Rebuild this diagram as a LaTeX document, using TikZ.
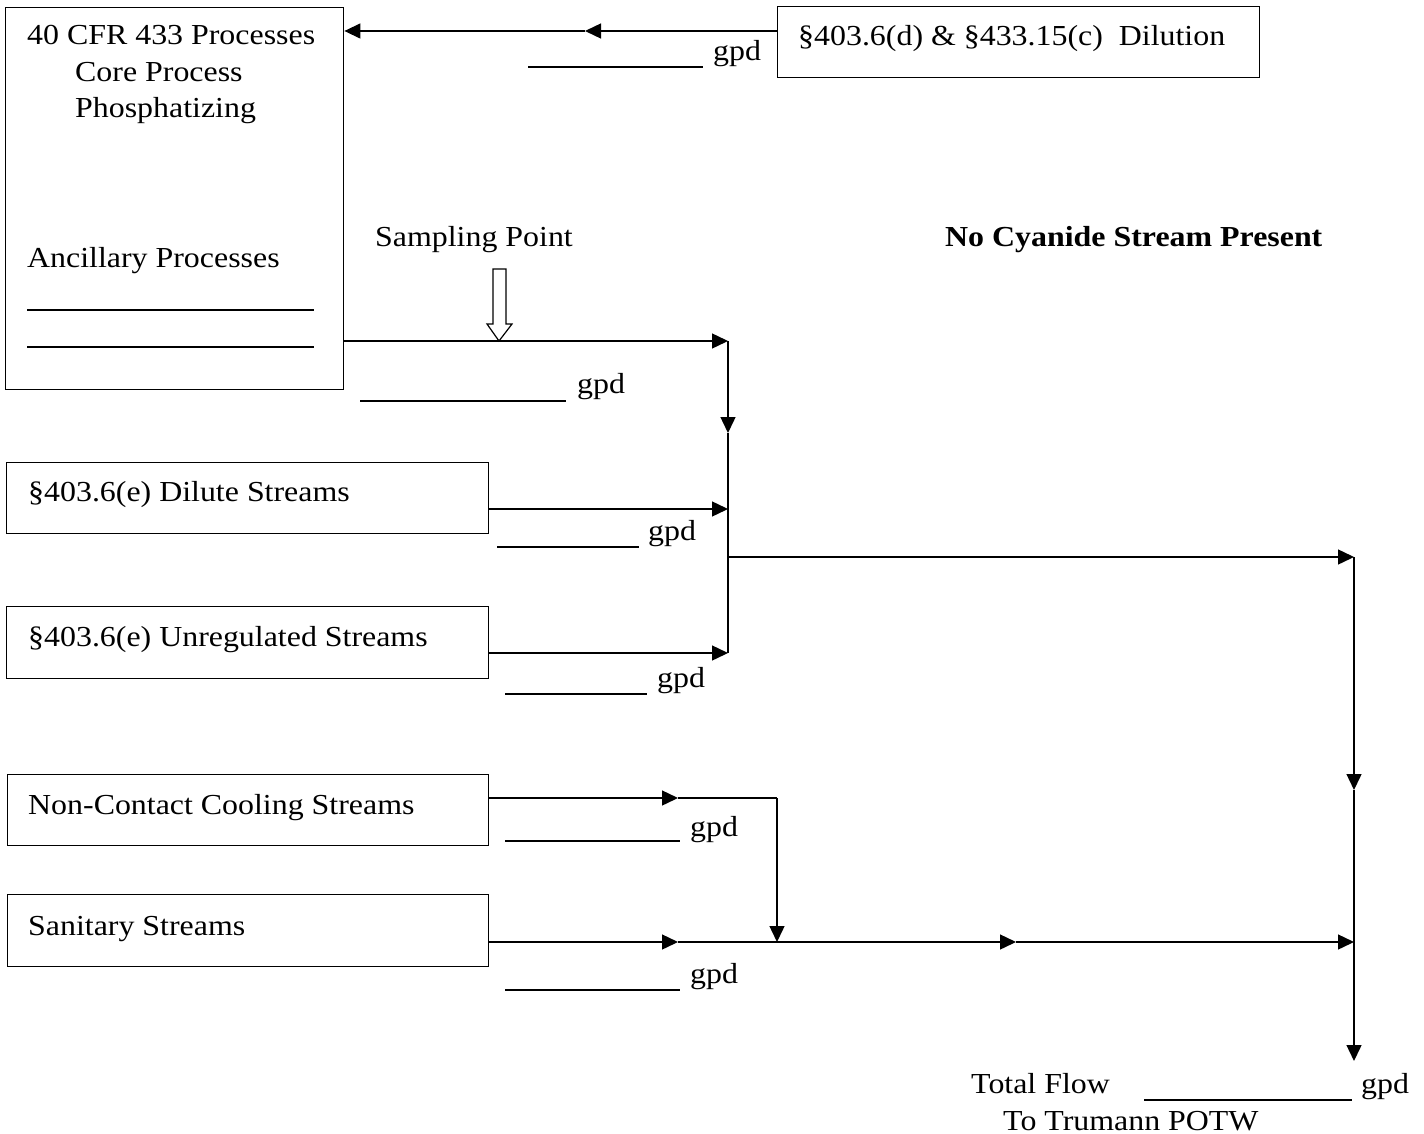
\documentclass[tikz,border=0pt]{standalone}
\usepackage{fontspec}
\setmainfont{Liberation Serif}[FakeStretch=1.1]
\usetikzlibrary{arrows.meta}
\begin{document}
\begin{tikzpicture}[x=1pt,y=-1pt,
  box/.style={draw,line width=1.4pt,inner sep=0,anchor=north west},
  txt/.style={inner sep=0,anchor=base west,font=\fontsize{29}{34}\selectfont},
  btxt/.style={txt,font=\fontsize{29}{34}\selectfont\bfseries},
  flow/.style={line width=1.4pt,-{Triangle[length=16pt,width=15pt]}},
  plain/.style={line width=1.4pt},
  blank/.style={line width=1.2pt}]
\useasboundingbox (0,0) rectangle (1424,1134);
% boxes
\node[box,minimum width=338pt,minimum height=382pt] (core) at (5,7) {};
\node[box,minimum width=482pt,minimum height=71pt] (dil) at (777,6) {};
\node[box,minimum width=482pt,minimum height=71pt] (dilute) at (6,462) {};
\node[box,minimum width=482pt,minimum height=72pt] (unreg) at (6,606) {};
\node[box,minimum width=481pt,minimum height=71pt] (ncc) at (7,774) {};
\node[box,minimum width=481pt,minimum height=72pt] (san) at (7,894) {};
% texts
\node[txt] (t1) at (27,45) {40 CFR 433 Processes};
\node[txt] (t2) at (75,82) {Core Process};
\node[txt] (t3) at (75,118) {Phosphatizing};
\node[txt] (t4) at (27,267) {Ancillary Processes};
\draw[blank] (27,310) -- (314,310);
\draw[blank] (27,347) -- (314,347);
\node[txt] (tdil) at (798,46) {§403.6(d) \& §433.15(c)\ \ Dilution};
\node[txt] (tdilute) at (28,501) {§403.6(e) Dilute Streams};
\node[txt] (tunreg) at (28,646) {§403.6(e) Unregulated Streams};
\node[txt] (tncc) at (28,814) {Non-Contact Cooling Streams};
\node[txt] (tsan) at (28,935) {Sanitary Streams};
\node[txt] (tsp) at (375,246) {Sampling Point};
\node[btxt] (tnc) at (945,246) {No Cyanide Stream Present};
\node[txt] (ttf) at (971,1093) {Total Flow};
\node[txt] (ttp) at (1003,1130) {To Trumann POTW};
% gpd blanks
\draw[blank] (528,67) -- (703,67);  \node[txt] (g1) at (713,61) {gpd};
\draw[blank] (360,401) -- (566,401); \node[txt] (g2) at (577,393) {gpd};
\draw[blank] (497,547) -- (639,547); \node[txt] (g3) at (648,540) {gpd};
\draw[blank] (505,694) -- (647,694); \node[txt] (g4) at (657,687) {gpd};
\draw[blank] (505,841) -- (680,841); \node[txt] (g5) at (690,836) {gpd};
\draw[blank] (505,990) -- (680,990); \node[txt] (g6) at (690,983) {gpd};
\draw[blank] (1144,1100) -- (1352,1100); \node[txt] (g7) at (1361,1093) {gpd};
% sampling point hollow arrow
\draw[line width=1.2pt,fill=white] (493,269) -- (506,269) -- (506,324) -- (512,324) -- (499,341) -- (487,324) -- (493,324) -- cycle;
% coordinates
\coordinate (dilm) at (585,31);
\coordinate (j1) at (728,341);
\coordinate (j1m) at (728,433);
\coordinate (j2) at (728,509);
\coordinate (j3) at (728,557);
\coordinate (j4) at (728,653);
\coordinate (r1) at (1354,557);
\coordinate (r2) at (1354,790);
\coordinate (r3) at (1354,942);
\coordinate (r4) at (1354,1061);
\coordinate (n1) at (678,798);
\coordinate (n2) at (777,798);
\coordinate (n3) at (777,942);
\coordinate (s1) at (678,942);
\coordinate (s2) at (1016,942);
% connectors
\draw[flow] (dil.west|-dilm) -- (dilm);
\draw[flow] (dilm) -- (core.east|-dilm);
\draw[flow] (core.east|-j1) -- (j1);
\draw[flow] (j1) -- (j1m);
\draw[plain] (j1m) -- (j4);
\draw[flow] (dilute.east|-j2) -- (j2);
\draw[flow] (unreg.east|-j4) -- (j4);
\draw[flow] (j3) -- (r1);
\draw[flow] (r1) -- (r2);
\draw[plain] (r2) -- (r3);
\draw[flow] (r3) -- (r4);
\draw[flow] (ncc.east|-n1) -- (n1);
\draw[plain] (n1) -- (n2);
\draw[flow] (n2) -- (n3);
\draw[flow] (san.east|-s1) -- (s1);
\draw[plain] (s1) -- (n3);
\draw[flow] (n3) -- (s2);
\draw[flow] (s2) -- (r3);
\end{tikzpicture}
\end{document}
